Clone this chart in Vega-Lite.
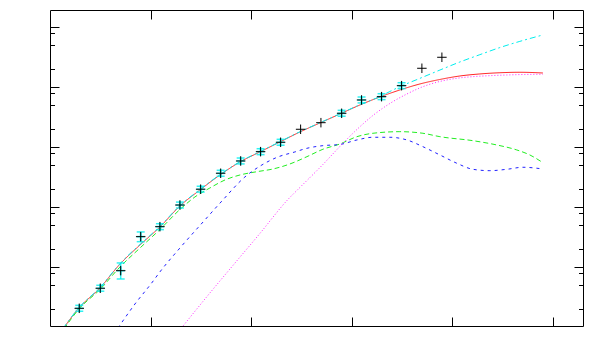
{
  "$schema": "https://vega.github.io/schema/vega-lite/v6.json",
  "width": 533,
  "height": 316,
  "autosize": "none",
  "padding": {"left": 50, "top": 10, "right": 17, "bottom": 34},
  "background": "white",
  "config": {
    "axis": {"labels": false, "domain": false, "grid": false, "title": null, "tickColor": "black", "tickWidth": 1},
    "view": {"stroke": "black", "strokeWidth": 1}
  },
  "datasets": {
    "curves": [
      {"s": "a", "x": 0.129, "y": 0.937}, {"s": "a", "x": 0.288, "y": 2.097}, {"s": "a", "x": 0.497, "y": 4.519}, {"s": "a", "x": 0.696, "y": 11.3}, {"s": "a", "x": 0.895, "y": 23.53}, {"s": "a", "x": 1.093, "y": 46.95}, {"s": "a", "x": 1.292, "y": 105.1}, {"s": "a", "x": 1.491, "y": 194.2}, {"s": "a", "x": 1.69, "y": 345.4}, {"s": "a", "x": 1.889, "y": 568.9}, {"s": "a", "x": 2.087, "y": 835.6}, {"s": "a", "x": 2.286, "y": 1225}, {"s": "a", "x": 2.485, "y": 1799}, {"s": "a", "x": 2.684, "y": 2541}, {"s": "a", "x": 2.883, "y": 3589}, {"s": "a", "x": 3.082, "y": 5070}, {"s": "a", "x": 3.28, "y": 6890}, {"s": "a", "x": 3.479, "y": 9016}, {"s": "a", "x": 3.678, "y": 11350}, {"s": "a", "x": 3.877, "y": 13490}, {"s": "a", "x": 4.076, "y": 15420}, {"s": "a", "x": 4.274, "y": 16670}, {"s": "a", "x": 4.473, "y": 17460}, {"s": "a", "x": 4.672, "y": 17780}, {"s": "a", "x": 4.901, "y": 17300},
      {"s": "b", "x": 0.139, "y": 0.937}, {"s": "b", "x": 0.288, "y": 2.018}, {"s": "b", "x": 0.497, "y": 4.266}, {"s": "b", "x": 0.696, "y": 10.12}, {"s": "b", "x": 0.895, "y": 20.97}, {"s": "b", "x": 1.093, "y": 42.66}, {"s": "b", "x": 1.292, "y": 91.9}, {"s": "b", "x": 1.441, "y": 148.5}, {"s": "b", "x": 1.59, "y": 209.7}, {"s": "b", "x": 1.74, "y": 285.1}, {"s": "b", "x": 1.889, "y": 345.4}, {"s": "b", "x": 2.058, "y": 391.9}, {"s": "b", "x": 2.217, "y": 434.5}, {"s": "b", "x": 2.386, "y": 527.2}, {"s": "b", "x": 2.555, "y": 697.3}, {"s": "b", "x": 2.714, "y": 926.3}, {"s": "b", "x": 2.883, "y": 1135}, {"s": "b", "x": 3.052, "y": 1502}, {"s": "b", "x": 3.211, "y": 1711}, {"s": "b", "x": 3.479, "y": 1820}, {"s": "b", "x": 3.708, "y": 1711}, {"s": "b", "x": 3.877, "y": 1502}, {"s": "b", "x": 4.205, "y": 1288}, {"s": "b", "x": 4.443, "y": 1092}, {"s": "b", "x": 4.642, "y": 901.6}, {"s": "b", "x": 4.771, "y": 744.7}, {"s": "b", "x": 4.901, "y": 553.6},
      {"s": "c", "x": 0.676, "y": 0.973}, {"s": "c", "x": 0.845, "y": 2.445}, {"s": "c", "x": 1.011, "y": 5.47}, {"s": "c", "x": 1.1, "y": 8.67}, {"s": "c", "x": 1.292, "y": 20.97}, {"s": "c", "x": 1.531, "y": 59.1}, {"s": "c", "x": 1.71, "y": 127.4}, {"s": "c", "x": 1.938, "y": 319.9}, {"s": "c", "x": 2.107, "y": 507}, {"s": "c", "x": 2.266, "y": 688.7}, {"s": "c", "x": 2.435, "y": 835.6}, {"s": "c", "x": 2.555, "y": 961.6}, {"s": "c", "x": 2.714, "y": 1064}, {"s": "c", "x": 2.883, "y": 1114}, {"s": "c", "x": 3.052, "y": 1324}, {"s": "c", "x": 3.211, "y": 1468}, {"s": "c", "x": 3.38, "y": 1468}, {"s": "c", "x": 3.549, "y": 1324}, {"s": "c", "x": 3.708, "y": 1023}, {"s": "c", "x": 3.877, "y": 744.7}, {"s": "c", "x": 4.046, "y": 541}, {"s": "c", "x": 4.205, "y": 429.5}, {"s": "c", "x": 4.374, "y": 407.4}, {"s": "c", "x": 4.543, "y": 429.5}, {"s": "c", "x": 4.702, "y": 464.2}, {"s": "c", "x": 4.901, "y": 434.5},
      {"s": "d", "x": 1.307, "y": 0.973}, {"s": "d", "x": 1.59, "y": 3.73}, {"s": "d", "x": 1.819, "y": 10.72}, {"s": "d", "x": 2.087, "y": 36.56}, {"s": "d", "x": 2.366, "y": 134.9}, {"s": "d", "x": 2.485, "y": 213.8}, {"s": "d", "x": 2.714, "y": 516.7}, {"s": "d", "x": 2.913, "y": 1166}, {"s": "d", "x": 3.052, "y": 1981}, {"s": "d", "x": 3.211, "y": 3388}, {"s": "d", "x": 3.38, "y": 5370}, {"s": "d", "x": 3.549, "y": 7730}, {"s": "d", "x": 3.708, "y": 10230}, {"s": "d", "x": 3.877, "y": 12500}, {"s": "d", "x": 4.046, "y": 14130}, {"s": "d", "x": 4.205, "y": 15030}, {"s": "d", "x": 4.374, "y": 15600}, {"s": "d", "x": 4.543, "y": 16030}, {"s": "d", "x": 4.722, "y": 16340}, {"s": "d", "x": 4.901, "y": 16480},
      {"s": "e", "x": 0.129, "y": 0.95}, {"s": "e", "x": 0.288, "y": 2.13}, {"s": "e", "x": 0.497, "y": 4.6}, {"s": "e", "x": 0.696, "y": 11.5}, {"s": "e", "x": 0.895, "y": 24.1}, {"s": "e", "x": 1.093, "y": 48.0}, {"s": "e", "x": 1.292, "y": 107}, {"s": "e", "x": 1.491, "y": 197}, {"s": "e", "x": 1.69, "y": 350}, {"s": "e", "x": 1.889, "y": 575}, {"s": "e", "x": 2.087, "y": 845}, {"s": "e", "x": 2.286, "y": 1237}, {"s": "e", "x": 2.485, "y": 1815}, {"s": "e", "x": 2.684, "y": 2560}, {"s": "e", "x": 2.883, "y": 3620}, {"s": "e", "x": 3.082, "y": 5120}, {"s": "e", "x": 3.28, "y": 7000}, {"s": "e", "x": 3.38, "y": 8511}, {"s": "e", "x": 3.479, "y": 10230}, {"s": "e", "x": 3.678, "y": 14070}, {"s": "e", "x": 3.877, "y": 19360}, {"s": "e", "x": 4.076, "y": 26400}, {"s": "e", "x": 4.274, "y": 34920}, {"s": "e", "x": 4.473, "y": 45890}, {"s": "e", "x": 4.672, "y": 58210}, {"s": "e", "x": 4.901, "y": 74440}
    ],
    "errs": [
      {"x": 0.291, "y": 2.07, "lo": 1.85, "hi": 2.32},
      {"x": 0.5, "y": 4.47, "lo": 3.99, "hi": 5.01},
      {"x": 0.703, "y": 8.78, "lo": 6.38, "hi": 11.8},
      {"x": 0.902, "y": 32.4, "lo": 26.7, "hi": 38.8},
      {"x": 1.093, "y": 47.5, "lo": 42.4, "hi": 53.2},
      {"x": 1.292, "y": 109, "lo": 97.3, "hi": 122},
      {"x": 1.498, "y": 200, "lo": 179, "hi": 224},
      {"x": 1.697, "y": 369, "lo": 329, "hi": 413},
      {"x": 1.896, "y": 591, "lo": 528, "hi": 662},
      {"x": 2.094, "y": 845, "lo": 754, "hi": 946},
      {"x": 2.293, "y": 1211, "lo": 1081, "hi": 1356},
      {"x": 2.9, "y": 3686, "lo": 3291, "hi": 4128},
      {"x": 3.098, "y": 6142, "lo": 5484, "hi": 6879},
      {"x": 3.297, "y": 6973, "lo": 6226, "hi": 7810},
      {"x": 3.496, "y": 10634, "lo": 9495, "hi": 11910}
    ],
    "pts": [
      {"x": 0.291, "y": 2.07}, {"x": 0.5, "y": 4.47}, {"x": 0.703, "y": 8.78}, {"x": 0.902, "y": 32.4}, {"x": 1.093, "y": 47.5}, {"x": 1.292, "y": 109}, {"x": 1.498, "y": 200}, {"x": 1.697, "y": 369}, {"x": 1.896, "y": 591}, {"x": 2.094, "y": 845}, {"x": 2.293, "y": 1211}, {"x": 2.492, "y": 1995}, {"x": 2.694, "y": 2570}, {"x": 2.9, "y": 3686}, {"x": 3.098, "y": 6142}, {"x": 3.297, "y": 6973}, {"x": 3.496, "y": 10634}, {"x": 3.698, "y": 20730}, {"x": 3.897, "y": 31623}
    ]
  },
  "resolve": {"axis": {"x": "independent", "y": "independent"}},
  "layer": [
    {
      "data": {"name": "curves"},
      "mark": {"type": "line", "clip": true, "interpolate": "monotone", "strokeWidth": 1},
      "encoding": {
        "x": {"field": "x", "type": "quantitative", "scale": {"domain": [0, 5.3], "nice": false, "zero": false},
          "axis": {"orient": "bottom", "values": [1, 2, 3, 4, 5], "tickSize": -9}},
        "y": {"field": "y", "type": "quantitative", "scale": {"type": "log", "domain": [1.05, 194000], "nice": false},
          "axis": {"orient": "left", "values": [2, 5, 8, 10, 20, 50, 80, 100, 200, 500, 800, 1000, 2000, 5000, 8000, 10000, 20000, 50000, 80000, 100000],
            "tickSize": {"condition": {"test": "indexof([10,100,1000,10000,100000], datum.value) >= 0", "value": -9}, "value": -4.5}}},
        "color": {"field": "s", "type": "nominal", "legend": null, "scale": {"domain": ["a", "b", "c", "d", "e"], "range": ["#ff2020", "#22ee22", "#2020ff", "#ff22ff", "#00eeee"]}},
        "strokeDash": {"field": "s", "type": "nominal", "legend": null, "scale": {"domain": ["a", "b", "c", "d", "e"], "range": [[1, 0], [5, 3], [3, 4], [1, 2], [6, 3, 2, 3]]}}
      }
    },
    {
      "data": {"name": "errs"},
      "mark": {"type": "rule", "color": "#00eeee", "strokeWidth": 1.5, "opacity": 0.8},
      "encoding": {
        "x": {"field": "x", "type": "quantitative", "axis": null},
        "y": {"field": "lo", "type": "quantitative", "axis": null},
        "y2": {"field": "hi"}
      }
    },
    {
      "data": {"name": "errs"},
      "mark": {"type": "point", "shape": "M-1,0L1,0", "filled": false, "color": "#00eeee", "strokeWidth": 1.5, "size": 64, "opacity": 0.8},
      "encoding": {
        "x": {"field": "x", "type": "quantitative", "axis": null},
        "y": {"field": "lo", "type": "quantitative", "axis": null}
      }
    },
    {
      "data": {"name": "errs"},
      "mark": {"type": "point", "shape": "M-1,0L1,0", "filled": false, "color": "#00eeee", "strokeWidth": 1.5, "size": 64, "opacity": 0.8},
      "encoding": {
        "x": {"field": "x", "type": "quantitative", "axis": null},
        "y": {"field": "hi", "type": "quantitative", "axis": null}
      }
    },
    {
      "data": {"name": "errs"},
      "mark": {"type": "point", "shape": "M-1,0L1,0M0,-1L0,1", "filled": false, "color": "#00eeee", "strokeWidth": 2, "size": 70, "opacity": 0.55},
      "encoding": {
        "x": {"field": "x", "type": "quantitative", "axis": null},
        "y": {"field": "y", "type": "quantitative", "axis": null}
      }
    },
    {
      "data": {"name": "pts"},
      "mark": {"type": "point", "shape": "M-1,0L1,0M0,-1L0,1", "filled": false, "color": "black", "strokeWidth": 1, "size": 90, "opacity": 1},
      "encoding": {
        "x": {"field": "x", "type": "quantitative",
          "axis": {"orient": "top", "values": [1, 2, 3, 4, 5], "tickSize": -9}},
        "y": {"field": "y", "type": "quantitative",
          "axis": {"orient": "right", "values": [2, 5, 8, 10, 20, 50, 80, 100, 200, 500, 800, 1000, 2000, 5000, 8000, 10000, 20000, 50000, 80000, 100000],
            "tickSize": {"condition": {"test": "indexof([10,100,1000,10000,100000], datum.value) >= 0", "value": -9}, "value": -4.5}}}
      }
    }
  ]
}
